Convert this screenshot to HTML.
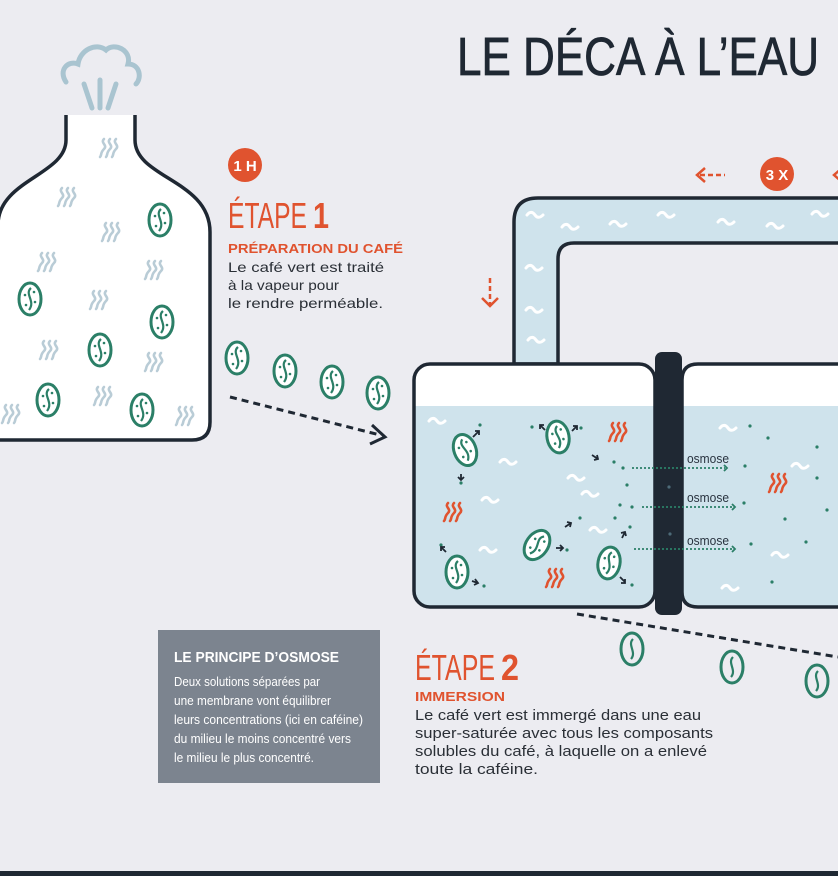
<!DOCTYPE html>
<html><head><meta charset="utf-8"><style>
html,body{margin:0;padding:0;background:#ececf1;}
svg{display:block;font-family:"Liberation Sans",sans-serif;}
</style></head><body>
<svg width="838" height="876" viewBox="0 0 838 876" xmlns="http://www.w3.org/2000/svg">
<defs>
 <g id="bean"><ellipse cx="0" cy="0" rx="11" ry="16" fill="#fff" stroke="#2b7f67" stroke-width="3"/>
  <path d="M1,-11 C-6,-5 6,2 -1,11" fill="none" stroke="#2b7f67" stroke-width="2.2"/>
  <circle cx="-5" cy="-4" r="1.3" fill="#2b7f67"/><circle cx="5" cy="3" r="1.3" fill="#2b7f67"/><circle cx="-4" cy="6" r="1.3" fill="#2b7f67"/><circle cx="4" cy="-7" r="1.3" fill="#2b7f67"/></g>
 <g id="beanp"><ellipse cx="0" cy="0" rx="11" ry="16" fill="none" stroke="#2b7f67" stroke-width="3"/>
  <path d="M1,-10 C-5,-4 5,3 -1,10" fill="none" stroke="#2b7f67" stroke-width="2.2"/></g>
 <g id="st" fill="none" stroke-width="2.6" stroke-linecap="round">
  <path d="M-6,-9 c-4,4 4,6 0,10 c-4,4 -2,6 -4,8"/><path d="M0,-9 c-4,4 4,6 0,10 c-4,4 -2,6 -4,8"/><path d="M6,-9 c-4,4 4,6 0,10 c-4,4 -2,6 -4,8"/></g>
 <path id="wv" d="M-8,0 c3,-4 6,-3 8,0 c2,3 5,3 8,0" fill="none" stroke="#fff" stroke-width="3" stroke-linecap="round"/>
</defs>

<text x="457" y="75" font-size="54" fill="#1f2833" stroke="#1f2833" stroke-width="0.8" textLength="362" lengthAdjust="spacingAndGlyphs">LE DÉCA À L’EAU</text>

<g fill="none" stroke="#a9c4d0" stroke-width="5" stroke-linecap="round">
 <path d="M66,82 C58,70 68,60 78,64 C80,50 96,42 106,50 C114,42 132,50 128,64 C140,64 142,78 136,84"/>
 <line x1="84" y1="84" x2="92" y2="108"/><line x1="100" y1="80" x2="100" y2="108"/><line x1="116" y1="84" x2="108" y2="108"/>
</g>
<path d="M66,115 V140 C66,175 -2,180 -2,225 V440 H192 Q210,440 210,422 V232 C210,180 135,178 135,140 V115" fill="#fff" stroke="#1f2833" stroke-width="3.5"/>
<g stroke="#b9ccd6">
 <use href="#st" x="110" y="148"/><use href="#st" x="68" y="197"/><use href="#st" x="112" y="232"/><use href="#st" x="48" y="262"/><use href="#st" x="155" y="270"/><use href="#st" x="100" y="300"/><use href="#st" x="50" y="350"/><use href="#st" x="155" y="362"/><use href="#st" x="104" y="396"/><use href="#st" x="12" y="414"/><use href="#st" x="186" y="416"/>
</g>
<use href="#bean" x="160" y="220"/><use href="#bean" x="30" y="299"/><use href="#bean" x="162" y="322"/><use href="#bean" x="100" y="350"/><use href="#bean" x="48" y="400"/><use href="#bean" x="142" y="410"/>
<use href="#bean" x="237" y="358"/><use href="#bean" x="285" y="371"/><use href="#bean" x="332" y="382"/><use href="#bean" x="378" y="393"/>
<line x1="230" y1="397" x2="380" y2="435" stroke="#1f2833" stroke-width="3" stroke-dasharray="7,5"/>
<path d="M372,425 L385,437 L370,444" fill="none" stroke="#1f2833" stroke-width="3"/>

<circle cx="245" cy="165" r="17" fill="#e0532f"/>
<text x="245" y="171" font-size="15" font-weight="bold" fill="#fff" text-anchor="middle">1 H</text>
<text x="228" y="228" font-size="36" fill="#e0532f" textLength="79" lengthAdjust="spacingAndGlyphs">ÉTAPE</text>
<text x="313" y="228" font-size="36" font-weight="bold" fill="#e0532f" textLength="16" lengthAdjust="spacingAndGlyphs">1</text>
<text x="228" y="253" font-size="13" font-weight="bold" fill="#e0532f" textLength="175" lengthAdjust="spacingAndGlyphs">PRÉPARATION DU CAFÉ</text>
<g font-size="14" fill="#2a2f36"><text x="228" y="272" textLength="156" lengthAdjust="spacingAndGlyphs">Le café vert est traité</text><text x="228" y="290" textLength="111" lengthAdjust="spacingAndGlyphs">à la vapeur pour</text><text x="228" y="308" textLength="155" lengthAdjust="spacingAndGlyphs">le rendre perméable.</text></g>

<path d="M514,364 V222 Q514,198 538,198 H850 V243 H574 Q558,243 558,259 V364 Z" fill="#cfe3ec" stroke="#1f2833" stroke-width="3.5"/>
<g><use href="#wv" x="535" y="215"/><use href="#wv" x="570" y="227"/><use href="#wv" x="618" y="224"/><use href="#wv" x="666" y="215"/><use href="#wv" x="726" y="222"/><use href="#wv" x="775" y="226"/><use href="#wv" x="820" y="214"/><use href="#wv" x="534" y="268"/><use href="#wv" x="534" y="310"/><use href="#wv" x="536" y="340"/></g>
<circle cx="777" cy="174" r="17" fill="#e0532f"/>
<text x="777" y="180" font-size="15" font-weight="bold" fill="#fff" text-anchor="middle">3 X</text>
<g stroke="#e0532f" stroke-width="2.5" fill="none"><line x1="700" y1="175" x2="725" y2="175" stroke-dasharray="5,3"/><path d="M705,168 L697,175 L705,182"/>
<path d="M842,168 L834,175 L842,182"/>
<line x1="490" y1="278" x2="490" y2="305" stroke-dasharray="5,3"/><path d="M482,298 L490,306 L498,298"/></g>

<path d="M414,406 H655 V592 Q655,607 640,607 H430 Q414,607 414,592 Z" fill="#cfe3ec"/>
<path d="M414,406 V380 Q414,364 430,364 H640 Q655,364 655,380 V406 Z" fill="#fff"/>
<rect x="414" y="364" width="241" height="243" rx="16" fill="none" stroke="#1f2833" stroke-width="3.5"/>
<path d="M682,406 H850 V607 H698 Q682,607 682,592 Z" fill="#cfe3ec"/>
<path d="M682,406 V380 Q682,364 698,364 H850 V406 Z" fill="#fff"/>
<path d="M850,364 H698 Q682,364 682,380 V592 Q682,607 698,607 H850" fill="none" stroke="#1f2833" stroke-width="3.5"/>
<rect x="655" y="352" width="27" height="263" rx="7" fill="#1f2833"/>
<g><use href="#wv" x="437" y="421"/><use href="#wv" x="508" y="462"/><use href="#wv" x="576" y="478"/><use href="#wv" x="490" y="500"/><use href="#wv" x="590" y="494"/><use href="#wv" x="488" y="550"/><use href="#wv" x="598" y="530"/><use href="#wv" x="728" y="428"/><use href="#wv" x="800" y="466"/><use href="#wv" x="780" y="555"/><use href="#wv" x="730" y="588"/></g>
<g stroke="#e0532f"><use href="#st" x="619" y="432"/><use href="#st" x="454" y="512"/><use href="#st" x="556" y="578"/><use href="#st" x="779" y="483"/></g>
<use href="#bean" transform="translate(465,450) rotate(-20)"/><use href="#bean" transform="translate(558,437) rotate(-10)"/><use href="#bean" transform="translate(537,545) rotate(35)"/><use href="#bean" x="457" y="572"/><use href="#bean" transform="translate(609,563) rotate(10)"/>
<g fill="#2b7f67"><circle cx="480" cy="425" r="1.6"/><circle cx="532" cy="427" r="1.6"/><circle cx="581" cy="428" r="1.6"/><circle cx="461" cy="483" r="1.6"/><circle cx="614" cy="462" r="1.6"/><circle cx="623" cy="468" r="1.6"/><circle cx="627" cy="485" r="1.6"/><circle cx="620" cy="505" r="1.6"/><circle cx="632" cy="507" r="1.6"/><circle cx="580" cy="518" r="1.6"/><circle cx="615" cy="518" r="1.6"/><circle cx="630" cy="527" r="1.6"/><circle cx="567" cy="550" r="1.6"/><circle cx="441" cy="545" r="1.6"/><circle cx="484" cy="586" r="1.6"/><circle cx="632" cy="585" r="1.6"/><circle cx="750" cy="426" r="1.6"/><circle cx="768" cy="438" r="1.6"/><circle cx="817" cy="447" r="1.6"/><circle cx="745" cy="466" r="1.6"/><circle cx="817" cy="478" r="1.6"/><circle cx="744" cy="503" r="1.6"/><circle cx="785" cy="519" r="1.6"/><circle cx="827" cy="510" r="1.6"/><circle cx="751" cy="544" r="1.6"/><circle cx="806" cy="542" r="1.6"/><circle cx="772" cy="582" r="1.6"/><circle cx="669" cy="487" r="1.6" fill="#4d6a78"/><circle cx="670" cy="534" r="1.6" fill="#4d6a78"/></g>
<g stroke="#1f2833" stroke-width="1.8" fill="none">
 <path d="M473,437 l6,-6 m-4,0 h4 v4"/><path d="M461,474 v6 m-3,-3 l3,3 l3,-3"/><path d="M545,430 l-5,-5 m0,4 v-4 h4"/><path d="M572,431 l5,-5 m-4,0 h4 v4"/><path d="M592,455 l6,4 m-4,1 l4,-1 l-1,-4"/>
 <path d="M565,527 l6,-4 m-4,-1 l4,1 l-1,4"/><path d="M556,548 h7 m-3,-3 l3,3 l-3,3"/><path d="M446,552 l-5,-5 m0,4 v-4 h4"/><path d="M472,581 l6,2 m-3,-4 l3,4 l-4,2"/><path d="M622,538 l3,-6 m-4,1 l4,-1 l1,4"/><path d="M620,577 l5,5 m-4,1 h4 v-4"/>
</g>
<g font-size="13" fill="#2a3440"><text x="687" y="463" textLength="42" lengthAdjust="spacingAndGlyphs">osmose</text><text x="687" y="502" textLength="42" lengthAdjust="spacingAndGlyphs">osmose</text><text x="687" y="545" textLength="42" lengthAdjust="spacingAndGlyphs">osmose</text></g>
<g stroke="#2b7f67" stroke-width="1.8" fill="none"><line x1="632" y1="468" x2="725" y2="468" stroke-dasharray="2,2"/><line x1="642" y1="507" x2="733" y2="507" stroke-dasharray="2,2"/><line x1="634" y1="549" x2="733" y2="549" stroke-dasharray="2,2"/>
<path d="M724,465 l3,3 l-3,3"/><path d="M732,504 l3,3 l-3,3"/><path d="M732,546 l3,3 l-3,3"/></g>

<line x1="577" y1="614" x2="838" y2="657" stroke="#1f2833" stroke-width="3" stroke-dasharray="7,5"/>
<use href="#beanp" x="632" y="649"/><use href="#beanp" x="732" y="667"/><use href="#beanp" x="817" y="681"/>

<rect x="158" y="630" width="222" height="153" fill="#7c848f"/>
<text x="174" y="662" font-size="15" font-weight="bold" fill="#fff" textLength="165" lengthAdjust="spacingAndGlyphs">LE PRINCIPE D’OSMOSE</text>
<g font-size="13" fill="#fff"><text x="174" y="686" textLength="146" lengthAdjust="spacingAndGlyphs">Deux solutions séparées par</text><text x="174" y="705" textLength="157" lengthAdjust="spacingAndGlyphs">une membrane vont équilibrer</text><text x="174" y="724" textLength="189" lengthAdjust="spacingAndGlyphs">leurs concentrations (ici en caféine)</text><text x="174" y="743" textLength="177" lengthAdjust="spacingAndGlyphs">du milieu le moins concentré vers</text><text x="174" y="762" textLength="140" lengthAdjust="spacingAndGlyphs">le milieu le plus concentré.</text></g>

<text x="415" y="680" font-size="36" fill="#e0532f" textLength="80" lengthAdjust="spacingAndGlyphs">ÉTAPE</text>
<text x="501" y="680" font-size="36" font-weight="bold" fill="#e0532f" textLength="18" lengthAdjust="spacingAndGlyphs">2</text>
<text x="415" y="701" font-size="13" font-weight="bold" fill="#e0532f" textLength="90" lengthAdjust="spacingAndGlyphs">IMMERSION</text>
<g font-size="15" fill="#2a2f36"><text x="415" y="720" textLength="286" lengthAdjust="spacingAndGlyphs">Le café vert est immergé dans une eau</text><text x="415" y="738" textLength="298" lengthAdjust="spacingAndGlyphs">super-saturée avec tous les composants</text><text x="415" y="756" textLength="292" lengthAdjust="spacingAndGlyphs">solubles du café, à laquelle on a enlevé</text><text x="415" y="774" textLength="123" lengthAdjust="spacingAndGlyphs">toute la caféine.</text></g>

<rect x="0" y="871" width="838" height="5" fill="#1f2833"/>
</svg>
</body></html>
